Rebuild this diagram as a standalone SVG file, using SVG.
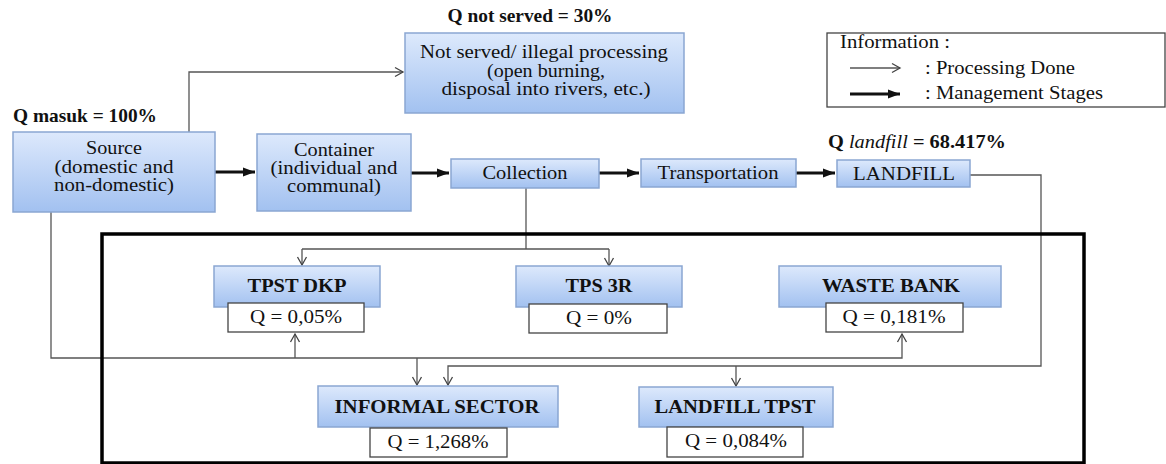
<svg xmlns="http://www.w3.org/2000/svg" width="1166" height="464" viewBox="0 0 1166 464">
<defs>
<linearGradient id="blue" x1="0" y1="0" x2="0" y2="1">
<stop offset="0" stop-color="#dde9fc"/>
<stop offset="1" stop-color="#a2c1f0"/>
</linearGradient>
<marker id="thin" markerUnits="userSpaceOnUse" markerWidth="12" markerHeight="12" refX="10" refY="6" orient="auto">
<path d="M2,1.5 L10,6 L2,10.5" fill="none" stroke="#444" stroke-width="1.3"/>
</marker>
<marker id="thick" markerUnits="userSpaceOnUse" markerWidth="12" markerHeight="10" refX="12" refY="5" orient="auto">
<path d="M0,0.5 L12,5 L0,9.5 z" fill="#111"/>
</marker>
</defs>
<style>
.box{fill:url(#blue);stroke:#8aa6d2;stroke-width:1.5}
.qbox{fill:#fff;stroke:#444;stroke-width:1.3}
.c{text-anchor:middle}
.b{font-weight:bold;font-size:19.5px}
.m{font-size:18px}
.ln{fill:none;stroke:#555;stroke-width:1.3}
.th{fill:none;stroke:#111;stroke-width:3}
</style>
<rect width="1166" height="464" fill="#fff"/>

<g id="connectors">
<path class="ln" d="M189,132 V72 H403" marker-end="url(#thin)"/>
<path class="th" d="M215,172 H255" marker-end="url(#thick)"/>
<path class="th" d="M411,173 H449" marker-end="url(#thick)"/>
<path class="th" d="M599,173 H639" marker-end="url(#thick)"/>
<path class="th" d="M796,173 H835" marker-end="url(#thick)"/>
<path class="ln" d="M970,175 H1041 V366 H448 V385" marker-end="url(#thin)"/>
<path class="ln" d="M736,366 V386" marker-end="url(#thin)"/>
<path class="ln" d="M51,212 V358 H902 V334" marker-end="url(#thin)"/>
<path class="ln" d="M295,358 V334" marker-end="url(#thin)"/>
<path class="ln" d="M417,358 V385" marker-end="url(#thin)"/>
<path class="ln" d="M526,188 V249"/>
<path class="ln" d="M302,249 H609"/>
<path class="ln" d="M302,249 V265" marker-end="url(#thin)"/>
<path class="ln" d="M609,249 V266" marker-end="url(#thin)"/>
</g>

<rect x="102" y="234" width="982" height="229" fill="none" stroke="#000" stroke-width="3.5"/>

<g font-family="'Liberation Serif', 'DejaVu Serif', 'Times New Roman', serif" font-size="19" fill="#111">
<g id="legend">
<rect x="827" y="33" width="338" height="74" fill="#fff" stroke="#444" stroke-width="1.3"/>
<text x="840" y="48" textLength="110" lengthAdjust="spacingAndGlyphs">Information :</text>
<path class="ln" d="M850,68 H900" marker-end="url(#thin)"/>
<text x="925" y="74" textLength="150" lengthAdjust="spacingAndGlyphs">: Processing Done</text>
<path class="th" d="M850,94 H900" marker-end="url(#thick)"/>
<text x="925" y="99" textLength="178" lengthAdjust="spacingAndGlyphs">: Management Stages</text>
</g>

<g id="source">
<text x="13" y="122" class="b" textLength="144" lengthAdjust="spacingAndGlyphs">Q masuk = 100%</text>
<rect class="box" x="13" y="132" width="202" height="80"/>
<text x="114" y="154" class="c m" textLength="56" lengthAdjust="spacingAndGlyphs">Source</text>
<text x="114" y="173" class="c m" textLength="119" lengthAdjust="spacingAndGlyphs">(domestic and</text>
<text x="114" y="191" class="c m" textLength="120" lengthAdjust="spacingAndGlyphs">non-domestic)</text>
</g>

<g id="container">
<rect class="box" x="257" y="134" width="154" height="77"/>
<text x="334" y="156" class="c m" textLength="80" lengthAdjust="spacingAndGlyphs">Container</text>
<text x="334" y="174" class="c m" textLength="127" lengthAdjust="spacingAndGlyphs">(individual and</text>
<text x="334" y="192" class="c m" textLength="94" lengthAdjust="spacingAndGlyphs">communal)</text>
</g>

<g id="notserved">
<text x="530" y="22" class="c b" textLength="165" lengthAdjust="spacingAndGlyphs">Q not served = 30%</text>
<rect class="box" x="405" y="33" width="279" height="80"/>
<text x="544" y="58" class="c" textLength="248" lengthAdjust="spacingAndGlyphs">Not served/ illegal processing</text>
<text x="546" y="77" class="c m" textLength="118" lengthAdjust="spacingAndGlyphs">(open burning,</text>
<text x="546" y="95" class="c m" textLength="209" lengthAdjust="spacingAndGlyphs">disposal into rivers, etc.)</text>
</g>

<g id="collection">
<rect class="box" x="451" y="159" width="148" height="29"/>
<text x="525" y="179" class="c" textLength="85" lengthAdjust="spacingAndGlyphs">Collection</text>
</g>

<g id="transportation">
<rect class="box" x="641" y="159" width="155" height="28"/>
<text x="718" y="179" class="c" textLength="121" lengthAdjust="spacingAndGlyphs">Transportation</text>
</g>

<g id="landfill">
<text x="828" y="148" class="b" textLength="178" lengthAdjust="spacingAndGlyphs">Q <tspan font-style="italic" font-weight="normal">landfill</tspan> = 68.417%</text>
<rect class="box" x="837" y="160" width="133" height="27"/>
<text x="904" y="180" class="c" textLength="102" lengthAdjust="spacingAndGlyphs">LANDFILL</text>
</g>

<g id="tpstdkp">
<rect class="box" x="214" y="266" width="166" height="41"/>
<text x="297" y="292" class="c b" textLength="99" lengthAdjust="spacingAndGlyphs">TPST DKP</text>
<rect class="qbox" x="228" y="303" width="136" height="29"/>
<text x="296" y="323" class="c" textLength="92" lengthAdjust="spacingAndGlyphs">Q = 0,05%</text>
</g>

<g id="tps3r">
<rect class="box" x="516" y="266" width="166" height="41"/>
<text x="599" y="292" class="c b" textLength="67" lengthAdjust="spacingAndGlyphs">TPS 3R</text>
<rect class="qbox" x="529" y="304" width="138" height="29"/>
<text x="599" y="324" class="c" textLength="66" lengthAdjust="spacingAndGlyphs">Q = 0%</text>
</g>

<g id="wastebank">
<rect class="box" x="779" y="266" width="222" height="41"/>
<text x="891" y="292" class="c b" textLength="138" lengthAdjust="spacingAndGlyphs">WASTE BANK</text>
<rect class="qbox" x="826" y="303" width="137" height="29"/>
<text x="894" y="323" class="c" textLength="103" lengthAdjust="spacingAndGlyphs">Q = 0,181%</text>
</g>

<g id="informal">
<rect class="box" x="318" y="386" width="240" height="41"/>
<text x="437" y="413" class="c b" textLength="205" lengthAdjust="spacingAndGlyphs">INFORMAL SECTOR</text>
<rect class="qbox" x="370" y="428" width="137" height="29"/>
<text x="438" y="448" class="c" textLength="101" lengthAdjust="spacingAndGlyphs">Q = 1,268%</text>
</g>

<g id="landfilltpst">
<rect class="box" x="639" y="387" width="194" height="40"/>
<text x="735" y="413" class="c b" textLength="161" lengthAdjust="spacingAndGlyphs">LANDFILL TPST</text>
<rect class="qbox" x="667" y="427" width="136" height="30"/>
<text x="736" y="447" class="c" textLength="102" lengthAdjust="spacingAndGlyphs">Q = 0,084%</text>
</g>
</g>
</svg>
